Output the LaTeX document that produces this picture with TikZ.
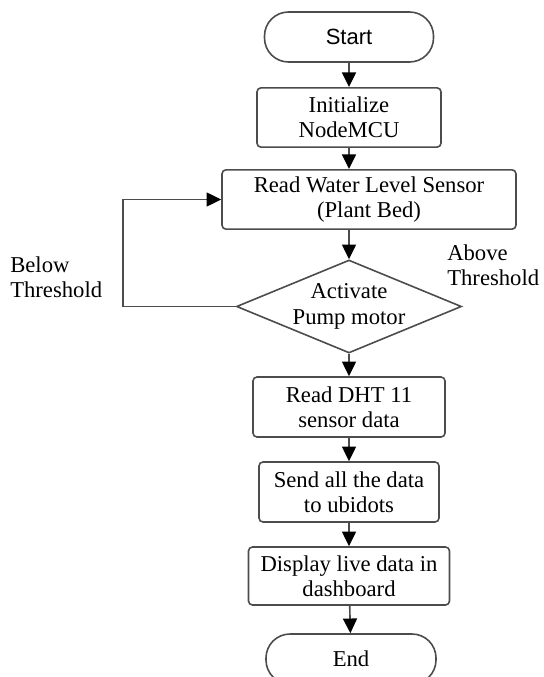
\documentclass[tikz,border=0pt]{standalone}
\usepackage{fontspec}
\setmainfont{Liberation Serif}
\newfontfamily\arialfont{Liberation Sans}
\usetikzlibrary{shapes.geometric,arrows.meta}

\begin{document}
\begin{tikzpicture}[x=0.75pt,y=-0.75pt,
    every node/.style={font=\fontsize{17}{19}\selectfont, align=center, inner sep=0pt},
    line/.style={draw=black!70, line width=1.2pt},
    box/.style={line, rectangle, rounded corners=3pt, minimum height=44.5pt},
    term/.style={line, rectangle, rounded corners=18pt, minimum height=37.5pt},
    flow/.style={line, -{Triangle[length=11pt,width=10.5pt,color=black]}}]
\useasboundingbox (0,0) rectangle (543,677);

% main column
\node[term, minimum width=126.75pt, font=\arialfont\fontsize{16.5}{19}\selectfont] (start) at (349,37) {Start};
\node[box, minimum width=138pt] (init) at (349,117.5) {Initialize\\NodeMCU};
\node[box, minimum width=220.5pt] (read) at (369,199.5) {Read Water Level Sensor\\(Plant Bed)};
\node[line, diamond, aspect=2.42, minimum width=168.75pt, minimum height=69.75pt] (act) at (349,306.5) {Activate\\Pump motor};
\node[box, minimum width=144pt, minimum height=45pt] (dht) at (349,407) {Read DHT 11\\sensor data};
\node[box, minimum width=135pt, minimum height=45pt] (send) at (349,492) {Send all the data\\to ubidots};
\node[box, minimum width=150.75pt, minimum height=43.5pt] (disp) at (349,576) {Display live data in\\dashboard};
\node[term, minimum width=127.5pt] (end) at (351,659) {End};

% labels
\node[anchor=west, align=left] (below) at (10,277) {Below\\Threshold};
\node[anchor=west, align=left] (above) at (447,265) {Above\\Threshold};

% arrows
\draw[flow] (start) -- (init);
\draw[flow] (init.south) -- (init.south |- read.north);
\draw[flow] (act.north |- read.south) -- (act.north);
\draw[flow] (act) -- (dht);
\draw[flow] (dht) -- (send);
\draw[flow] (send) -- (disp);
\draw[flow] (disp) -- (end);

\coordinate (loop) at (123,306.5);
\draw[flow] (act.west) -- (loop) |- (read.west);
\end{tikzpicture}
\end{document}
